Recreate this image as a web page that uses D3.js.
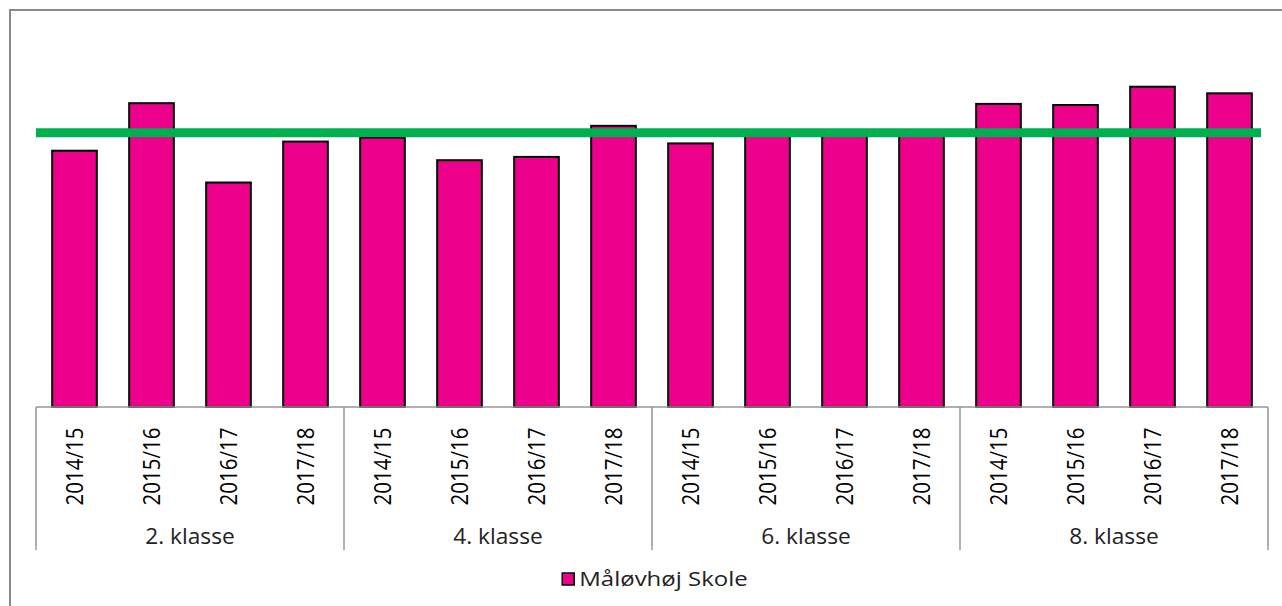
<!DOCTYPE html>
<html>
<head>
<meta charset="utf-8">
<script src="https://cdn.jsdelivr.net/npm/d3@7"></script>
<style>
  html, body { margin: 0; padding: 0; background: #fff; }
  svg { display: block; }
</style>
</head>
<body>
<div id="chart"></div>
<script>
// Data (bar heights, relative scale 0-100)
const groups = ['2. klasse', '4. klasse', '6. klasse', '8. klasse'];
const years = ['2014/15', '2015/16', '2016/17', '2017/18'];
const values = [
  70.1, 83.1, 61.4, 72.6,   // 2. klasse
  73.7, 67.5, 68.4, 76.9,   // 4. klasse
  72.1, 74.7, 74.7, 74.7,   // 6. klasse
  82.9, 82.6, 87.6, 85.8    // 8. klasse
];
const referenceValue = 75;  // green line
const seriesName = 'Måløvhøj Skole';

const width = 1282, height = 606;
const BAR_COLOR = '#EC008C';
const LINE_COLOR = '#00B050';
const AXIS_COLOR = '#969696';
const FONT = '"Open Sans", "Liberation Sans", sans-serif';

// Build flat category list
const data = [];
groups.forEach((g, gi) => {
  years.forEach((yr, yi) => {
    data.push({ key: g + '|' + yr, group: g, year: yr, value: values[gi * years.length + yi] });
  });
});

const svg = d3.select('#chart')
  .append('svg')
  .attr('width', width)
  .attr('height', height);

// Chart border
svg.append('rect')
  .attr('x', 10)
  .attr('y', 10)
  .attr('width', 1300)
  .attr('height', 620)
  .attr('fill', 'none')
  .attr('stroke', '#8a8a8a')
  .attr('stroke-width', 2);

const plot = { left: 36, right: 1268, top: 41.4, bottom: 407 };

const x = d3.scaleBand()
  .domain(data.map(d => d.key))
  .range([plot.left, plot.right])
  .paddingInner(0.42)
  .paddingOuter(0.21);

const y = d3.scaleLinear()
  .domain([0, 100])
  .range([plot.bottom, plot.top]);

// Bars
svg.append('g')
  .selectAll('rect')
  .data(data)
  .join('rect')
  .attr('x', d => x(d.key))
  .attr('y', d => y(d.value))
  .attr('width', x.bandwidth())
  .attr('height', d => y(0) - y(d.value))
  .attr('fill', BAR_COLOR)
  .attr('stroke', '#000')
  .attr('stroke-width', 2);

// Reference line
svg.append('line')
  .attr('x1', plot.left)
  .attr('x2', plot.right - 7)
  .attr('y1', y(referenceValue))
  .attr('y2', y(referenceValue))
  .attr('stroke', LINE_COLOR)
  .attr('stroke-width', 9);

// Category axis (two levels)
const step = x.step();
const axis = svg.append('g');

axis.append('line')
  .attr('x1', plot.left)
  .attr('x2', plot.right)
  .attr('y1', plot.bottom)
  .attr('y2', plot.bottom)
  .attr('stroke', AXIS_COLOR)
  .attr('stroke-width', 1.5);

// group separators
const sepX = d3.range(groups.length + 1).map(i => plot.left + i * years.length * step);
axis.selectAll('.sep')
  .data(sepX)
  .join('line')
  .attr('class', 'sep')
  .attr('x1', d => d)
  .attr('x2', d => d)
  .attr('y1', plot.bottom)
  .attr('y2', 550)
  .attr('stroke', AXIS_COLOR)
  .attr('stroke-width', 1.5);

// year labels (rotated)
axis.selectAll('.year')
  .data(data)
  .join('text')
  .attr('class', 'year')
  .attr('transform', d => `translate(${x(d.key) + x.bandwidth() / 2},466.5) rotate(-90) scale(1,1.12)`)
  .attr('text-anchor', 'middle')
  .attr('dy', '0.35em')
  .style('font-family', FONT)
  .style('font-size', '20.5px')
  .style('fill', '#000')
  .text(d => d.year);

// group labels
axis.selectAll('.group')
  .data(groups)
  .join('text')
  .attr('class', 'group')
  .attr('transform', (d, i) => `translate(${(sepX[i] + sepX[i + 1]) / 2},544) scale(1.08,1)`)
  .attr('text-anchor', 'middle')
  .style('font-family', FONT)
  .style('font-size', '21px')
  .style('fill', '#222')
  .text(d => d);

// Legend
const legend = svg.append('g');
const legendText = legend.append('text')
  .attr('transform', 'translate(17,13) scale(1.2,1)')
  .style('font-family', FONT)
  .style('font-size', '20px')
  .style('fill', '#222')
  .text(seriesName);
legend.append('rect')
  .attr('x', 0)
  .attr('y', 0)
  .attr('width', 12)
  .attr('height', 12)
  .attr('fill', BAR_COLOR)
  .attr('stroke', '#000')
  .attr('stroke-width', 1.5);
const legendW = 17 + 1.2 * legendText.node().getComputedTextLength();
legend.attr('transform', `translate(${(plot.left + plot.right) / 2 + 3 - legendW / 2},573)`);
</script>
</body>
</html>
